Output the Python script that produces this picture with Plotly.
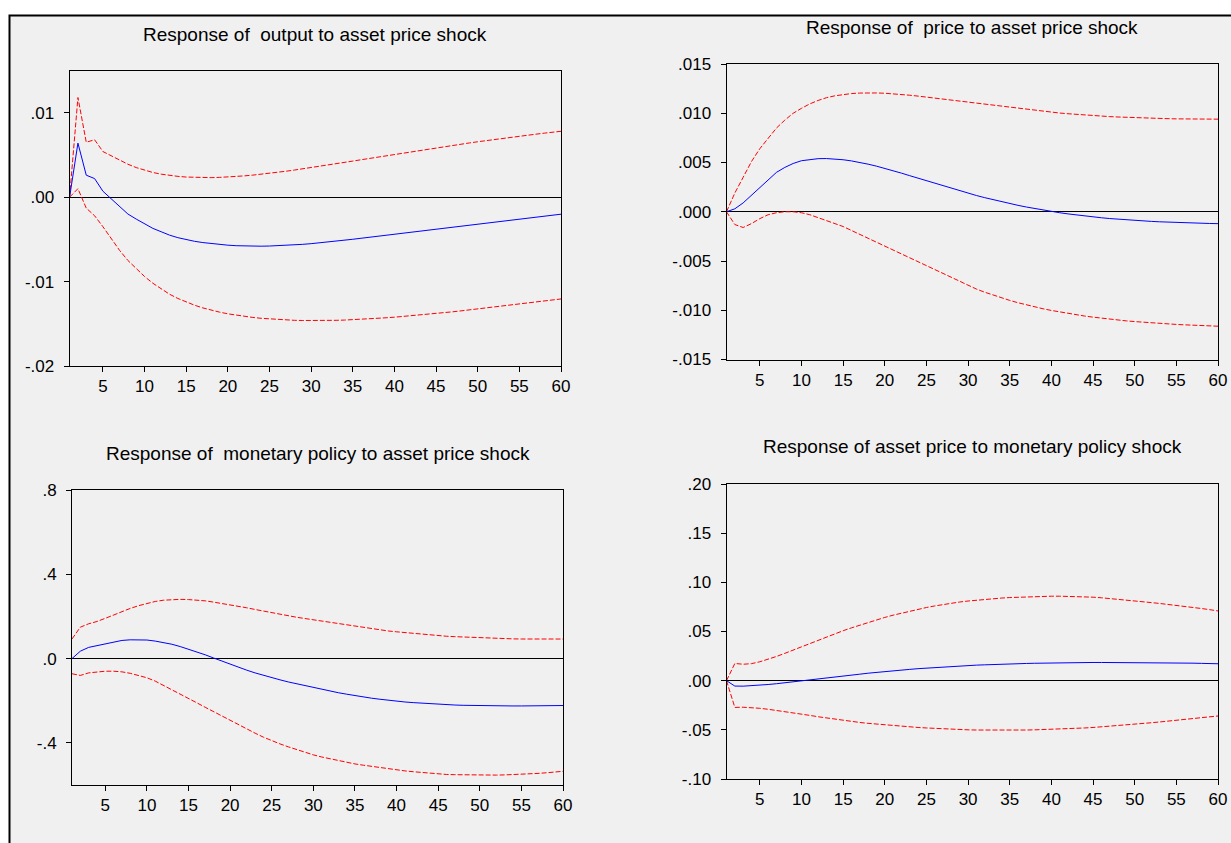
import plotly.graph_objects as go

W, H = 1231, 843
periods = list(range(1, 61))

# Panel 1: Response of output to asset price shock
out_resp = [0, 0.0064, 0.0026, 0.0022, 0.0007, -0.0002, -0.0012, -0.0020, -0.0026, -0.0032,
            -0.0037, -0.0041, -0.0045, -0.0048, -0.00505, -0.00523, -0.00538, -0.00551, -0.00561, -0.00569,
            -0.00575, -0.00579, -0.00581, -0.00581, -0.00579, -0.00576, -0.00572, -0.00566, -0.00559, -0.00551,
            -0.00542, -0.00532, -0.00521, -0.00510, -0.00499, -0.00487, -0.00475, -0.00463, -0.00451, -0.00439,
            -0.00427, -0.00415, -0.00403, -0.00391, -0.00379, -0.00367, -0.00355, -0.00343, -0.00331, -0.00319,
            -0.00307, -0.00296, -0.00284, -0.00273, -0.00261, -0.00250, -0.00238, -0.00227, -0.00215, -0.00202]
out_upper = [0, 0.0118, 0.0065, 0.0068, 0.0054, 0.0049, 0.0044, 0.0039, 0.0035, 0.00318,
             0.00292, 0.00272, 0.00257, 0.00246, 0.00238, 0.00233, 0.00231, 0.00231, 0.00234, 0.00238,
             0.00244, 0.00252, 0.00261, 0.00271, 0.00282, 0.00294, 0.00307, 0.00321, 0.00335, 0.00350,
             0.00365, 0.00380, 0.00395, 0.00411, 0.00427, 0.00443, 0.00459, 0.00475, 0.00491, 0.00507,
             0.00523, 0.00539, 0.00554, 0.00569, 0.00584, 0.00599, 0.00614, 0.00628, 0.00642, 0.00656,
             0.00670, 0.00683, 0.00696, 0.00709, 0.00722, 0.00734, 0.00746, 0.00758, 0.00769, 0.00780]
out_lower = [0, 0.0010, -0.0013, -0.0022, -0.0035, -0.0049, -0.0063, -0.0075, -0.0085, -0.0094,
             -0.0102, -0.0109, -0.01150, -0.01200, -0.01243, -0.01280, -0.01312, -0.01339, -0.01362, -0.01382,
             -0.01399, -0.01413, -0.01425, -0.01435, -0.01443, -0.01450, -0.01455, -0.01459, -0.01461, -0.01462,
             -0.01462, -0.01461, -0.01459, -0.01456, -0.01452, -0.01447, -0.01442, -0.01436, -0.01429, -0.01422,
             -0.01414, -0.01406, -0.01397, -0.01388, -0.01378, -0.01368, -0.01358, -0.01347, -0.01336, -0.01325,
             -0.01314, -0.01302, -0.01290, -0.01278, -0.01266, -0.01254, -0.01242, -0.01230, -0.01218, -0.01206]

# Panel 2: Response of price to asset price shock
prc_resp = [0, 0.0003, 0.0009, 0.0017, 0.0025, 0.0033, 0.0040, 0.0045, 0.0049, 0.00518,
            0.00532, 0.00539, 0.00540, 0.00536, 0.00528, 0.00516, 0.00501, 0.00483, 0.00463, 0.00441,
            0.00417, 0.00392, 0.00366, 0.00340, 0.00314, 0.00288, 0.00262, 0.00237, 0.00212, 0.00188,
            0.00165, 0.00143, 0.00122, 0.00102, 0.00083, 0.00065, 0.00048, 0.00032, 0.00017, 0.00003,
            -0.00010, -0.00022, -0.00033, -0.00043, -0.00052, -0.00061, -0.00069, -0.00076, -0.00082, -0.00088,
            -0.00093, -0.00098, -0.00102, -0.00106, -0.00109, -0.00112, -0.00115, -0.00117, -0.00119, -0.00121]
prc_upper = [0, 0.0019, 0.0035, 0.0051, 0.0064, 0.0075, 0.0085, 0.0093, 0.0100, 0.0105,
             0.01095, 0.01130, 0.01158, 0.01177, 0.01191, 0.01200, 0.01205, 0.01207, 0.01206, 0.01203,
             0.01198, 0.01191, 0.01183, 0.01174, 0.01164, 0.01154, 0.01143, 0.01132, 0.01121, 0.01110,
             0.01099, 0.01088, 0.01077, 0.01066, 0.01056, 0.01046, 0.01036, 0.01027, 0.01018, 0.01010,
             0.01002, 0.00995, 0.00988, 0.00982, 0.00976, 0.00971, 0.00966, 0.00962, 0.00958, 0.00955,
             0.00952, 0.00949, 0.00947, 0.00945, 0.00943, 0.00942, 0.00941, 0.00940, 0.00940, 0.00940]
prc_lower = [0, -0.0013, -0.0016, -0.0012, -0.0007, -0.0003, -0.0001, 0.0000, 0.0000, -0.0001,
             -0.0003, -0.0006, -0.0009, -0.0012, -0.0015, -0.0019, -0.0023, -0.0027, -0.0031, -0.0035,
             -0.0039, -0.0043, -0.0047, -0.0051, -0.0055, -0.0059, -0.0063, -0.00670, -0.00712, -0.00750,
             -0.00785, -0.00817, -0.00847, -0.00875, -0.00900, -0.00924, -0.00946, -0.00966, -0.00985, -0.01002,
             -0.01018, -0.01033, -0.01046, -0.01059, -0.01070, -0.01081, -0.01091, -0.01100, -0.01108, -0.01115,
             -0.01122, -0.01128, -0.01134, -0.01139, -0.01144, -0.01148, -0.01152, -0.01156, -0.01159, -0.01162]

# Panel 3: Response of monetary policy to asset price shock
mp_resp = [0.0, 0.035, 0.053, 0.061, 0.071, 0.080, 0.086, 0.089, 0.090, 0.088,
           0.083, 0.076, 0.068, 0.057, 0.045, 0.032, 0.018, 0.003, -0.012, -0.027,
           -0.041, -0.055, -0.068, -0.080, -0.091, -0.101, -0.111, -0.120, -0.129, -0.137,
           -0.146, -0.154, -0.162, -0.169, -0.176, -0.182, -0.188, -0.193, -0.198, -0.202,
           -0.206, -0.209, -0.212, -0.215, -0.217, -0.219, -0.2205, -0.2218, -0.2228, -0.2236,
           -0.2242, -0.2246, -0.2248, -0.2249, -0.2248, -0.2246, -0.2243, -0.2239, -0.2234, -0.2228]
mp_upper = [0.093, 0.149, 0.165, 0.176, 0.191, 0.207, 0.223, 0.238, 0.251, 0.262,
            0.271, 0.277, 0.280, 0.281, 0.280, 0.278, 0.274, 0.268, 0.262, 0.256,
            0.249, 0.241, 0.233, 0.225, 0.217, 0.210, 0.203, 0.196, 0.190, 0.184,
            0.177, 0.171, 0.165, 0.159, 0.153, 0.147, 0.142, 0.136, 0.131, 0.127,
            0.123, 0.119, 0.115, 0.112, 0.109, 0.106, 0.104, 0.102, 0.100, 0.098,
            0.0965, 0.0953, 0.0943, 0.0935, 0.0929, 0.0925, 0.0923, 0.0923, 0.0925, 0.0928]
mp_lower = [-0.072, -0.080, -0.068, -0.063, -0.060, -0.060, -0.063, -0.070, -0.079, -0.091,
            -0.107, -0.127, -0.147, -0.167, -0.190, -0.210, -0.231, -0.252, -0.273, -0.294,
            -0.314, -0.334, -0.354, -0.373, -0.390, -0.405, -0.419, -0.432, -0.445, -0.457,
            -0.467, -0.476, -0.485, -0.493, -0.500, -0.506, -0.512, -0.518, -0.524, -0.529,
            -0.533, -0.537, -0.541, -0.545, -0.548, -0.550, -0.551, -0.552, -0.553, -0.553,
            -0.553, -0.553, -0.552, -0.551, -0.550, -0.548, -0.545, -0.542, -0.538, -0.535]

# Panel 4: Response of asset price to monetary policy shock
ap_resp = [0, -0.0055, -0.0056, -0.0052, -0.0046, -0.0039, -0.0031, -0.0022, -0.0012, -0.0003,
           0.0007, 0.0017, 0.0027, 0.0037, 0.0047, 0.0057, 0.0066, 0.0076, 0.0085, 0.0094,
           0.0101, 0.0108, 0.0115, 0.0122, 0.0128, 0.0134, 0.0139, 0.0144, 0.0149, 0.0154,
           0.0158, 0.0161, 0.0165, 0.0168, 0.0171, 0.0173, 0.0175, 0.0177, 0.0179, 0.0181,
           0.0182, 0.0183, 0.0184, 0.0185, 0.0185, 0.0185, 0.0185, 0.0185, 0.0185, 0.0185,
           0.0184, 0.0184, 0.0183, 0.0182, 0.0181, 0.0180, 0.0178, 0.0176, 0.0174, 0.0172]
ap_upper = [0.000, 0.0175, 0.0167, 0.0173, 0.0192, 0.0217, 0.0246, 0.0278, 0.0312, 0.0346,
            0.0380, 0.0413, 0.0446, 0.0478, 0.0508, 0.0537, 0.0565, 0.0592, 0.0618, 0.0643,
            0.0666, 0.0687, 0.0707, 0.0726, 0.0744, 0.0760, 0.0775, 0.0788, 0.0800, 0.0810,
            0.0819, 0.0827, 0.0834, 0.0840, 0.0845, 0.0849, 0.0853, 0.0856, 0.0858, 0.0859,
            0.0859, 0.0858, 0.0856, 0.0853, 0.0849, 0.0843, 0.0836, 0.0829, 0.0821, 0.0812,
            0.0803, 0.0794, 0.0785, 0.0776, 0.0766, 0.0756, 0.0745, 0.0734, 0.0722, 0.0709]
ap_lower = [0, -0.0272, -0.0270, -0.0274, -0.0281, -0.0291, -0.0302, -0.0314, -0.0326, -0.0339,
            -0.0353, -0.0367, -0.0380, -0.0393, -0.0405, -0.0415, -0.0425, -0.0434, -0.0442, -0.0450,
            -0.0457, -0.0464, -0.0470, -0.0476, -0.0481, -0.0486, -0.0490, -0.0494, -0.0497, -0.0500,
            -0.0502, -0.0503, -0.0504, -0.0504, -0.0504, -0.0503, -0.0502, -0.0500, -0.0498, -0.0496,
            -0.0493, -0.0490, -0.0486, -0.0481, -0.0476, -0.0470, -0.0464, -0.0457, -0.0450, -0.0443,
            -0.0436, -0.0428, -0.0420, -0.0412, -0.0404, -0.0395, -0.0386, -0.0377, -0.0368, -0.0359]

titles = ["Response of\u00a0 output to asset price shock",
          "Response of\u00a0 price to asset price shock",
          "Response of\u00a0 monetary policy to asset price shock",
          "Response of asset price to monetary policy shock"]

y1_ticks = [0.01, 0.0, -0.01, -0.02]
y1_text = [".01", ".00", "-.01", "-.02"]
y2_ticks = [0.015, 0.010, 0.005, 0.0, -0.005, -0.010, -0.015]
y2_text = [".015", ".010", ".005", ".000", "-.005", "-.010", "-.015"]
y3_ticks = [0.8, 0.4, 0.0, -0.4]
y3_text = [".8", ".4", ".0", "-.4"]
y4_ticks = [0.20, 0.15, 0.10, 0.05, 0.0, -0.05, -0.10]
y4_text = [".20", ".15", ".10", ".05", ".00", "-.05", "-.10"]
x_ticks = list(range(5, 61, 5))

panels = [
    dict(resp=out_resp, up=out_upper, lo=out_lower, yr=[-0.02, 0.015], tv=y1_ticks, tt=y1_text,
         px=(69.6, 561), py=(70.5, 366), ty=35),
    dict(resp=prc_resp, up=prc_upper, lo=prc_lower, yr=[-0.015, 0.015], tv=y2_ticks, tt=y2_text,
         px=(726.5, 1218), py=(64, 359.5), ty=27),
    dict(resp=mp_resp, up=mp_upper, lo=mp_lower, yr=[-0.6, 0.8], tv=y3_ticks, tt=y3_text,
         px=(72, 563), py=(490, 785), ty=453),
    dict(resp=ap_resp, up=ap_upper, lo=ap_lower, yr=[-0.10, 0.20], tv=y4_ticks, tt=y4_text,
         px=(726.5, 1218), py=(484, 779), ty=447),
]

FONT = "Arial, 'Liberation Sans', sans-serif"
fig = go.Figure()
annotations = []
for i, p in enumerate(panels):
    n = "" if i == 0 else str(i + 1)
    xa, ya = "x" + n, "y" + n
    for series, color, dash in [(p["up"], "#ff0000", "5px,2px"), (p["lo"], "#ff0000", "5px,2px"),
                                (p["resp"], "#0000ff", "solid")]:
        fig.add_trace(go.Scatter(x=periods, y=series, mode="lines", xaxis=xa, yaxis=ya,
                                 line=dict(color=color, width=1, dash=dash),
                                 showlegend=False, hoverinfo="skip"))
    xd = [p["px"][0] / W, p["px"][1] / W]
    yd = [1 - p["py"][1] / H, 1 - p["py"][0] / H]
    common = dict(showline=True, linecolor="black", linewidth=1, mirror=True, showgrid=False,
                  ticks="outside", ticklen=5, tickcolor="black", tickwidth=1,
                  tickfont=dict(family=FONT, size=17, color="black"), automargin=False)
    fig.layout["xaxis" + n] = dict(domain=xd, range=[1, 60], tickvals=x_ticks, zeroline=False,
                                   anchor=ya, **common)
    fig.layout["yaxis" + n] = dict(domain=yd, range=p["yr"], tickvals=p["tv"], ticktext=p["tt"],
                                   zeroline=True, zerolinecolor="black", zerolinewidth=1,
                                   ticklabelstandoff=6, anchor=xa, **common)
    annotations.append(dict(text=titles[i], x=(xd[0] + xd[1]) / 2, y=1 - p["ty"] / H,
                            xref="paper", yref="paper", xanchor="center", yanchor="middle",
                            showarrow=False, font=dict(family=FONT, size=19, color="black")))

fig.update_layout(
    width=W, height=H, margin=dict(l=0, r=0, t=0, b=0),
    paper_bgcolor="white", plot_bgcolor="white",
    annotations=annotations,
    shapes=[dict(type="rect", xref="paper", yref="paper", x0=9.5 / W, x1=1.01, y0=-0.01, y1=1 - 15.5 / H,
                 fillcolor="#f0f0f0", line=dict(color="black", width=2), layer="below")],
)
fig.write_html("out.html", config={"displayModeBar": False},
               post_script="document.body.style.margin='0';document.body.style.overflow='hidden';")
